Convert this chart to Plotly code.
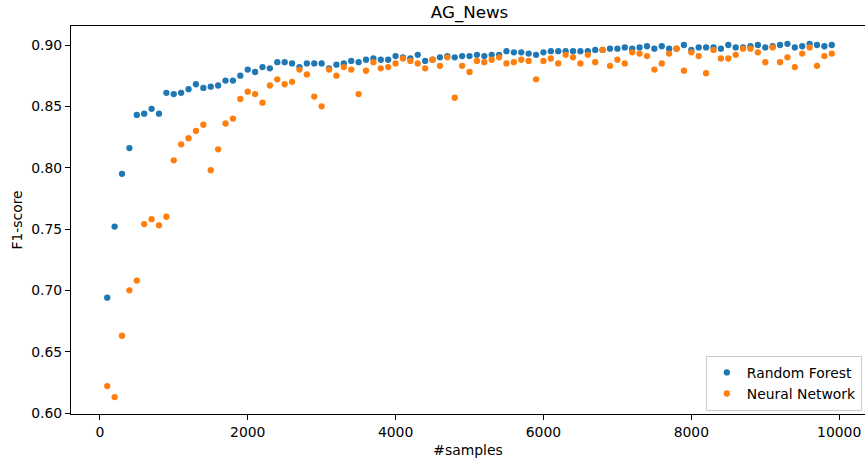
import plotly.graph_objects as go

samples = list(range(100, 10000, 100))

random_forest = [
    0.694, 0.752, 0.795, 0.816, 0.843, 0.844, 0.848, 0.844, 0.861, 0.860,
    0.861, 0.864, 0.868, 0.865, 0.866, 0.867, 0.871, 0.871, 0.875, 0.880,
    0.878, 0.882, 0.881, 0.886, 0.886, 0.885, 0.882, 0.885, 0.885, 0.885,
    0.881, 0.884, 0.885, 0.887, 0.886, 0.888, 0.889, 0.888, 0.888, 0.891,
    0.890, 0.889, 0.892, 0.887, 0.888, 0.890, 0.891, 0.890, 0.891, 0.891,
    0.892, 0.891, 0.892, 0.892, 0.895, 0.894, 0.894, 0.893, 0.892, 0.894,
    0.895, 0.895, 0.895, 0.895, 0.895, 0.895, 0.896, 0.896, 0.897, 0.897,
    0.898, 0.897, 0.898, 0.899, 0.897, 0.899, 0.897, 0.897, 0.900, 0.896,
    0.898, 0.898, 0.898, 0.897, 0.900, 0.898, 0.898, 0.899, 0.900, 0.898,
    0.899, 0.900, 0.901, 0.898, 0.899, 0.901, 0.900, 0.899, 0.900,
]

neural_network = [
    0.622, 0.613, 0.663, 0.700, 0.708, 0.754, 0.758, 0.753, 0.760, 0.806,
    0.819, 0.824, 0.830, 0.835, 0.798, 0.815, 0.836, 0.840, 0.856, 0.862,
    0.860, 0.853, 0.867, 0.872, 0.868, 0.870, 0.880, 0.876, 0.858, 0.850,
    0.880, 0.875, 0.882, 0.880, 0.860, 0.879, 0.886, 0.881, 0.882, 0.885,
    0.889, 0.887, 0.885, 0.881, 0.888, 0.883, 0.890, 0.857, 0.883, 0.878,
    0.887, 0.886, 0.888, 0.890, 0.885, 0.886, 0.888, 0.887, 0.872, 0.887,
    0.889, 0.885, 0.892, 0.890, 0.885, 0.892, 0.886, 0.896, 0.883, 0.888,
    0.885, 0.894, 0.893, 0.891, 0.880, 0.885, 0.893, 0.897, 0.879, 0.894,
    0.891, 0.877, 0.896, 0.889, 0.889, 0.892, 0.897, 0.897, 0.894, 0.886,
    0.898, 0.886, 0.890, 0.882, 0.893, 0.898, 0.883, 0.891, 0.893,
]

FONT = "DejaVu Sans"

fig = go.Figure()
fig.add_trace(go.Scatter(
    x=samples, y=random_forest, mode="markers", name="Random Forest",
    marker=dict(color="#1f77b4", size=6.3, line=dict(width=0)),
))
fig.add_trace(go.Scatter(
    x=samples, y=neural_network, mode="markers", name="Neural Network",
    marker=dict(color="#ff7f0e", size=6.3, line=dict(width=0)),
))

fig.update_layout(
    width=865, height=458,
    margin=dict(l=71, r=0, t=26, b=44, autoexpand=False),
    paper_bgcolor="white", plot_bgcolor="white",
    font=dict(family=FONT, size=13.9, color="black"),
    title=dict(text="AG_News", x=0.502, xanchor="center",
               xref="paper", y=1 - 12.5 / 458, yanchor="middle",
               font=dict(family=FONT, size=16.7, color="black")),
    showlegend=True,
    legend=dict(
        x=0.996, y=0.008, xanchor="right", yanchor="bottom",
        bordercolor="#cccccc", borderwidth=1, bgcolor="rgba(255,255,255,0.8)",
        font=dict(family=FONT, size=13.9, color="black"),
        tracegroupgap=2,
    ),
    xaxis=dict(
        range=[-390, 10349], automargin=False,
        tickmode="array", tickvals=[0, 2000, 4000, 6000, 8000, 10000],
        ticktext=["0", "2000", "4000", "6000", "8000", "10000"],
        showgrid=False, zeroline=False,
        showline=True, linecolor="black", linewidth=1.1, mirror=True,
        ticks="outside", ticklen=5, tickwidth=1.1, tickcolor="black",
        title=dict(text="#samples", standoff=6,
                   font=dict(family=FONT, size=13.9, color="black")),
    ),
    yaxis=dict(
        range=[0.5992, 0.9155], automargin=False,
        tickmode="array", tickvals=[0.60, 0.65, 0.70, 0.75, 0.80, 0.85, 0.90],
        ticktext=["0.60", "0.65", "0.70", "0.75", "0.80", "0.85", "0.90"],
        showgrid=False, zeroline=False,
        showline=True, linecolor="black", linewidth=1.1, mirror=False,
        ticks="outside", ticklen=5, tickwidth=1.1, tickcolor="black",
        title=dict(text="F1-score", standoff=5,
                   font=dict(family=FONT, size=13.9, color="black")),
    ),
)

fig.write_html(
    "out.html",
    config={"displayModeBar": False},
    post_script="document.body.style.margin='0';document.body.style.padding='0';document.body.style.overflow='hidden';",
)
